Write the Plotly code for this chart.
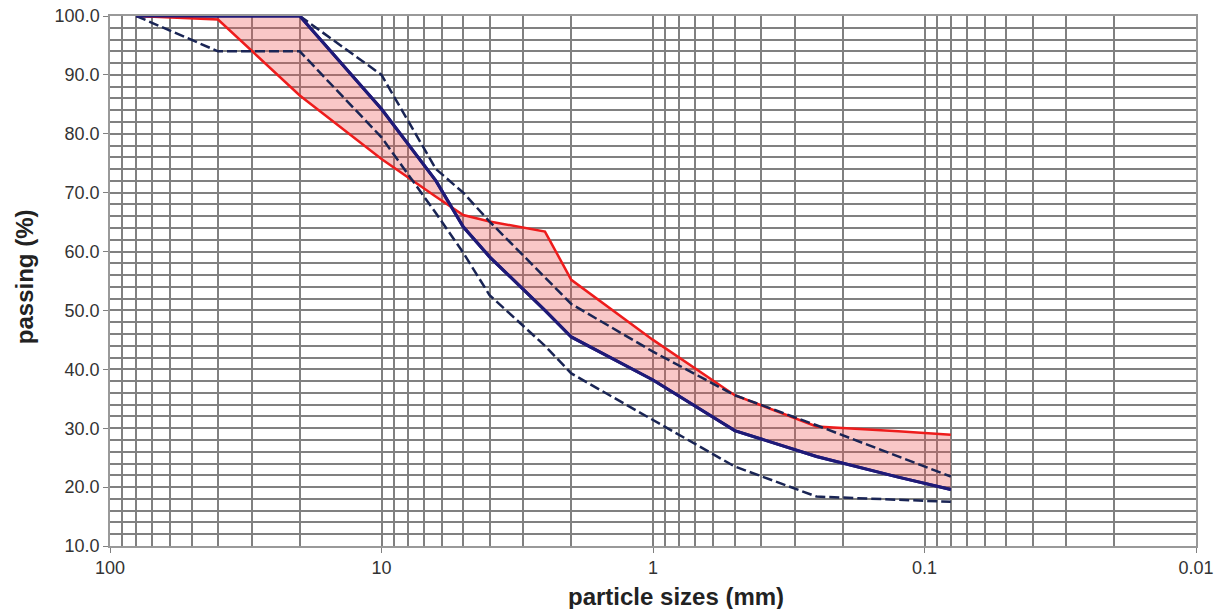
import plotly.graph_objects as go

# sieve sizes (mm)
sizes = [80, 40, 20, 10, 6.3, 5, 4, 2.5, 2, 1, 0.5, 0.25, 0.125, 0.08]
# passing (%) per curve
red_curve = [100, 99.4, 86.5, 75.7, 69.3, 66.2, 65.1, 63.4, 55.2, 45.0, 35.6, 30.3, 29.5, 28.9]
navy_curve = [100, 100, 100, 84.2, 72.0, 64.2, 59.1, 50.0, 45.5, 38.2, 29.6, 25.2, 21.7, 19.6]
upper_limit = [None, None, 100, 90, 74.0, 70.0, 65.1, 55.7, 51.1, 43.0, 35.6, 30.5, 25.2, 21.8]
lower_limit = [100, 94, 94, 79.4, 66.5, 59.8, 52.6, 44.0, 39.3, 31.4, 23.5, 18.4, 17.9, 17.5]

x_tickvals = [100, 10, 1, 0.1, 0.01]
x_ticktext = ["100", "10", "1", "0.1", "0.01"]

NAVY = "#1f1a78"
DASH_NAVY = "#1a2555"
RED = "#ee1c1c"
GRID = "#808080"

# log minor gridlines at 2..9 x 10^k (axis configuration)
minor_vals = [d * 10.0 ** k for k in range(-2, 2) for d in range(2, 10)]

fig = go.Figure()
fig.add_trace(go.Scatter(x=sizes, y=navy_curve, mode="lines",
                         line=dict(color=NAVY, width=3), showlegend=False))
fig.add_trace(go.Scatter(x=sizes, y=red_curve, mode="lines", fill="tonexty",
                         fillcolor="rgba(235,80,80,0.32)",
                         line=dict(color=RED, width=2.5), showlegend=False))
fig.add_trace(go.Scatter(x=sizes, y=upper_limit, mode="lines",
                         line=dict(color=DASH_NAVY, width=2.5, dash="10px,4px"), showlegend=False))
fig.add_trace(go.Scatter(x=sizes, y=lower_limit, mode="lines",
                         line=dict(color=DASH_NAVY, width=2.5, dash="10px,4px"), showlegend=False))
fig.add_trace(go.Scatter(x=sizes, y=navy_curve, mode="lines",
                         line=dict(color=NAVY, width=3), showlegend=False, hoverinfo="skip"))

fig.update_layout(
    width=1217, height=609,
    margin=dict(l=110, r=21, t=16, b=63),
    paper_bgcolor="white", plot_bgcolor="white",
    font=dict(family="Liberation Sans, Arial, sans-serif", color="#333333"),
    annotations=[
        dict(text="<b>particle sizes (mm)</b>", xref="paper", yref="paper",
             x=0.521, y=-0.096, xanchor="center", yanchor="middle", showarrow=False,
             font=dict(size=24, color="#222222")),
        dict(text="<b>passing (%)</b>", xref="paper", yref="paper",
             x=-0.0792, y=0.509, xanchor="center", yanchor="middle", showarrow=False,
             textangle=-90, font=dict(size=24, color="#222222")),
    ],
)
fig.update_xaxes(
    type="log", range=[2, -2], autorange=False, automargin=False,
    tickmode="array", tickvals=x_tickvals, ticktext=x_ticktext,
    tickfont=dict(size=18, color="#333333"),
    ticks="outside", ticklen=5, tickcolor=GRID,
    showgrid=True, gridcolor=GRID, gridwidth=1.5,
    minor=dict(tickmode="array", tickvals=minor_vals, showgrid=True,
               gridcolor=GRID, gridwidth=1.5, ticks=""),
    showline=True, linecolor="#999999", linewidth=1.5, mirror=True,
    zeroline=False,
)
fig.update_yaxes(
    range=[10, 100], autorange=False, automargin=False,
    dtick=10, tick0=10, tickformat=".1f",
    tickfont=dict(size=18, color="#333333"),
    ticks="outside", ticklen=5, tickcolor=GRID,
    showgrid=True, gridcolor=GRID, gridwidth=1.5,
    minor=dict(dtick=2, showgrid=True, gridcolor=GRID, gridwidth=1.5, ticks=""),
    showline=True, linecolor="#999999", linewidth=1.5, mirror=True,
    zeroline=False,
)

fig.write_html("out.html")
